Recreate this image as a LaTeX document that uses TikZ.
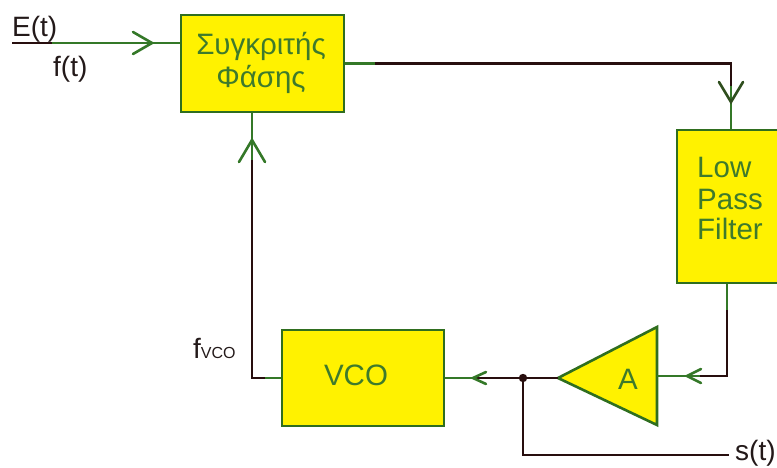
\documentclass[tikz,border=0pt]{standalone}
\usepackage{fontspec}
\setmainfont{Liberation Sans}
\usetikzlibrary{arrows.meta}
\definecolor{boxyellow}{RGB}{255,242,0}
\definecolor{boxgreen}{RGB}{47,110,31}
\definecolor{txtgreen}{RGB}{62,122,44}
\definecolor{wiregreen}{RGB}{52,120,40}
\definecolor{wiredark}{RGB}{40,14,14}
\definecolor{lbldark}{RGB}{35,25,25}
\begin{document}
\begin{tikzpicture}[x=1pt,y=-1pt,
  blk/.style={draw=boxgreen, fill=boxyellow, line width=2.6pt, inner sep=0pt},
  gw/.style={draw=wiregreen, line width=2.6pt},
  dw/.style={draw=wiredark, line width=2.6pt},
  intxt/.style={font=\fontsize{29.5}{34}\selectfont, text=txtgreen, inner sep=0pt},
  outtxt/.style={font=\fontsize{28}{32}\selectfont, text=lbldark, inner sep=0pt},
  chev/.style={line width=2.6pt, line cap=round, line join=miter}]
\useasboundingbox (0,0) rectangle (777,468);

% blocks
\node[blk, minimum width=163pt, minimum height=97pt] (cmp) at (262.5,63.5) {};
\node[intxt, anchor=base] (cmpa) at (261,55) {Συγκριτής};
\node[intxt, anchor=base] (cmpb) at (261,88) {Φάσης};

\node[blk, minimum width=108pt, minimum height=153pt] (lpf) at (731,206.5) {};
\node[intxt, anchor=base west] (lpfa) at (697,178) {Low};
\node[intxt, anchor=base west] (lpfb) at (697,209) {Pass};
\node[intxt, anchor=base west] (lpfc) at (697,240) {Filter};

\node[blk, minimum width=162pt, minimum height=96pt] (vco) at (363,378) {};
\node[intxt, anchor=base] (vcot) at (356,385) {VCO};

\coordinate (amptip) at (558,378);
\coordinate (amptop) at (657,327);
\coordinate (ampbot) at (657,425);
\coordinate (ampr) at (657,376);
\draw[blk] (amptip) -- (amptop) -- (ampbot) -- cycle;
\node[intxt, anchor=base] (ampt) at (628,389) {A};

% labels
\node[outtxt, anchor=base west] (et) at (12,37) {E(t)};
\node[outtxt, anchor=base west] (ft) at (53,77) {f(t)};
\node[outtxt, anchor=base west] (fvco) at (193,358) {f{\fontsize{16}{18}\selectfont VCO}};
\node[outtxt, anchor=west] (st) at (735,453) {s(t)};

% input
\coordinate (in0) at (12,43);
\coordinate (in1) at (52,43);
\draw[dw] (in0) -- (in1);
\draw[gw] (in1) -- (cmp.west |- in1);
\coordinate (a1) at (152,43);
\draw[chev, wiregreen] (a1) ++(-19,-11) -- (a1) -- ++(-19,11);

% comparator -> LPF
\coordinate (c1) at (375,63.5);
\coordinate (c2) at (731,63.5);
\coordinate (c3) at (731,86);
\draw[gw] (cmp.east) -- (c1);
\draw[dw] (c1) -- (c2) -- (c3);
\draw[gw] (c3) -- (lpf.north);
\coordinate (a2) at (731,102);
\draw[chev, wiregreen!60!wiredark] (a2) ++(-12,-20) -- (a2) -- ++(12,-20);

% LPF -> amp
\coordinate (l1) at ([xshift=-4pt]lpf.south);
\coordinate (l2) at (727,310);
\coordinate (l3) at (727,376);
\coordinate (l4) at (700,376);
\draw[gw] (l1) -- (l2);
\draw[dw] (l2) -- (l3) -- (l4);
\draw[gw] (l4) -- (ampr);
\coordinate (a3) at (687,376);
\draw[chev, wiregreen] (a3) ++(14,-7) -- (a3) -- ++(14,7);

% amp -> VCO
\coordinate (dot) at (523,378);
\coordinate (v1) at (473,378);
\draw[dw] (amptip) -- (dot) -- (v1);
\draw[gw] (v1) -- (vco.east);
\draw[chev, wiregreen] (v1) ++(13,-6) -- (v1) -- ++(13,6);
\fill[wiredark] (dot) circle (4.2pt);

% output s(t)
\coordinate (send) at (729,455);
\draw[dw] (dot) -- (dot |- send) -- (send);

% VCO -> comparator
\coordinate (f1) at (265,378);
\coordinate (f2) at (252,378);
\coordinate (f3) at (252,160);
\coordinate (fb) at ([xshift=-10.5pt]cmp.south);
\draw[gw] (vco.west) -- (f1);
\draw[dw] (f1) -- (f2) -- (f3);
\draw[gw] (f3) -- (fb);
\coordinate (a4) at (252,140);
\draw[chev, wiregreen] (a4) ++(-13,22) -- (a4) -- ++(13,22);
\end{tikzpicture}
\end{document}
